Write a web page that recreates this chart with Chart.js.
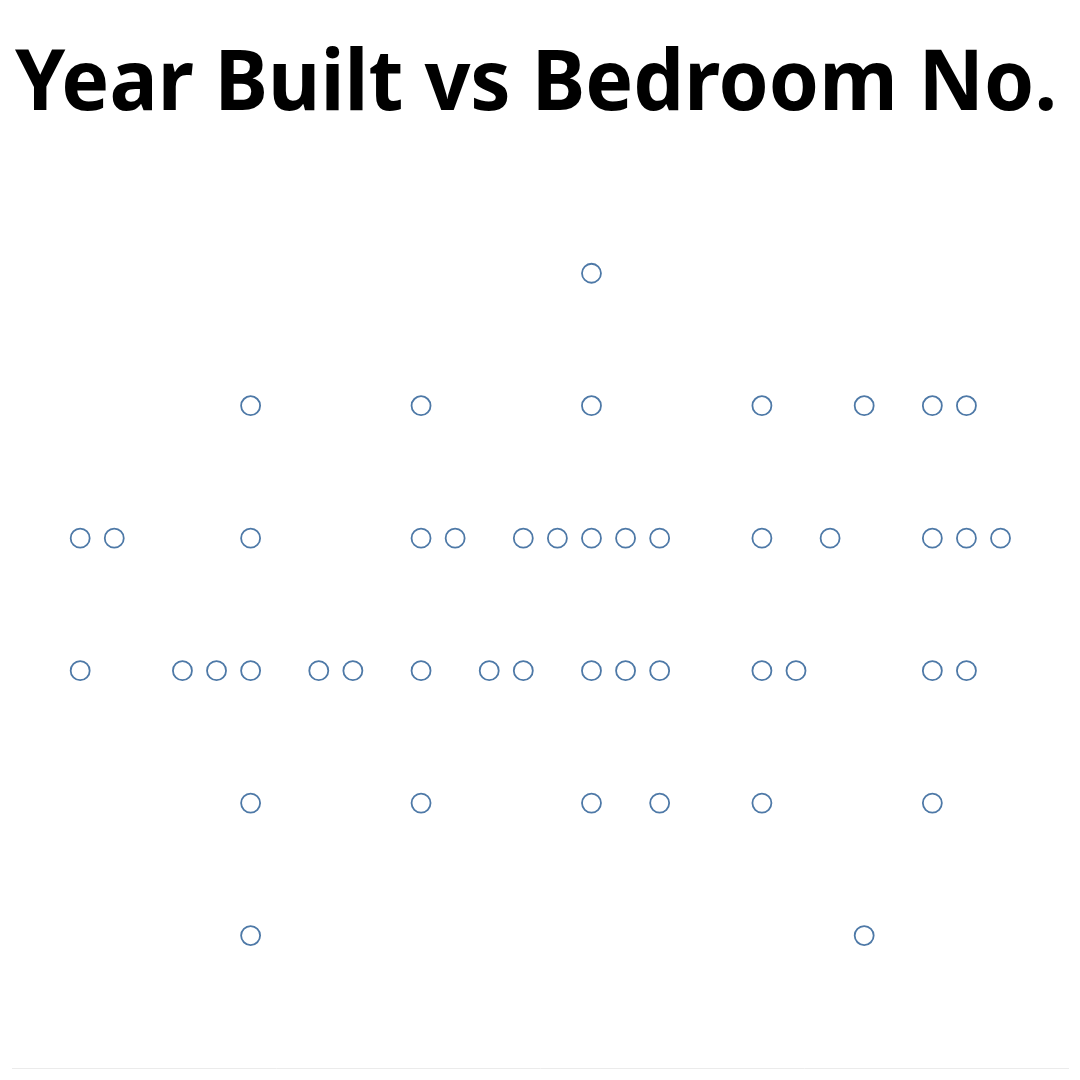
<!DOCTYPE html>
<html>
<head>
<meta charset="utf-8">
<script src="https://cdn.jsdelivr.net/npm/chart.js@4.4.0/dist/chart.umd.min.js"></script>
<style>
html,body{margin:0;padding:0;background:#fff;}
#wrap{width:1080px;height:1080px;}
</style>
</head>
<body>
<div id="wrap"><canvas id="c" width="1080" height="1080"></canvas></div>
<script>
const titleText = "Year Built vs Bedroom No.";
const yearBuilt = [
  2010,
  2000, 2005, 2010, 2015, 2018, 2020, 2021,
  1995, 1996, 2000, 2005, 2006, 2008, 2009, 2010, 2011, 2012, 2015, 2017, 2020, 2021, 2022,
  1995, 1998, 1999, 2000, 2002, 2003, 2005, 2007, 2008, 2010, 2011, 2012, 2015, 2016, 2020, 2021,
  2000, 2005, 2010, 2012, 2015, 2020,
  2000, 2018
];
const bedrooms = [
  6,
  5, 5, 5, 5, 5, 5, 5,
  4, 4, 4, 4, 4, 4, 4, 4, 4, 4, 4, 4, 4, 4, 4,
  3, 3, 3, 3, 3, 3, 3, 3, 3, 3, 3, 3, 3, 3, 3, 3,
  2, 2, 2, 2, 2, 2,
  1, 1
];
const points = yearBuilt.map((x, i) => ({x: x, y: bedrooms[i]}));

// narrow the title box so the title text spans the same width as the reference
const titleWidthPlugin = {
  id: 'titleWidth',
  afterLayout(chart) {
    const tb = chart.titleBlock;
    if (tb) { tb.left = 15; tb.right = 1057; tb.width = 1042; }
  }
};

new Chart(document.getElementById('c'), {
  type: 'scatter',
  data: {
    datasets: [{
      data: points,
      pointRadius: 9.5,
      pointHoverRadius: 9.5,
      pointBorderWidth: 1.8,
      pointBorderColor: '#4e79a7',
      pointBackgroundColor: 'rgba(255,255,255,0)'
    }]
  },
  plugins: [titleWidthPlugin],
  options: {
    responsive: false,
    animation: false,
    layout: {padding: {left: 12, right: 11, top: 0, bottom: 4}},
    plugins: {
      legend: {display: false},
      tooltip: {enabled: false},
      title: {
        display: true,
        text: titleText,
        color: '#000',
        font: {family: "'Noto Sans', 'Open Sans', sans-serif", size: 84, weight: 'bold'},
        padding: {top: 36, bottom: 4}
      }
    },
    scales: {
      x: {
        type: 'linear',
        min: 1993,
        max: 2024,
        grid: {display: false},
        border: {display: true, color: '#ebebeb', width: 1},
        ticks: {display: false}
      },
      y: {
        display: false,
        min: 0,
        max: 7
      }
    }
  }
});
</script>
</body>
</html>
